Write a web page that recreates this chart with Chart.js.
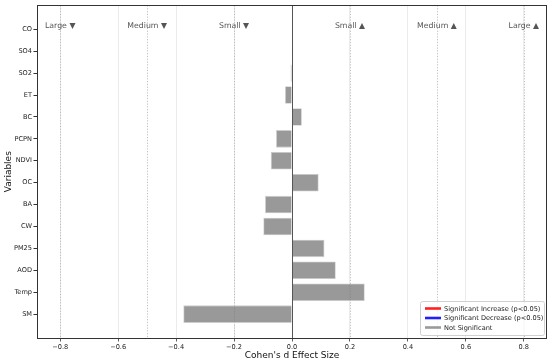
<!DOCTYPE html>
<html lang="en">
<head>
    <meta charset="UTF-8">
    <title>Cohen's d Effect Size</title>
    <script src="https://cdn.jsdelivr.net/npm/chart.js"></script>
    <style>
        html, body { margin: 0; padding: 0; background: #fff; }
        #wrap { width: 550px; height: 364px; }
    </style>
</head>
<body>
    <div id="wrap"><canvas id="effectChart"></canvas></div>

    <script>
        // variables, top to bottom
        const variables = ['CO', 'SO4', 'SO2', 'ET', 'BC', 'PCPN', 'NDVI', 'OC', 'BA', 'CW', 'PM25', 'AOD', 'Temp', 'SM'];
        const effectSizes = [0.001, 0.004, -0.005, -0.024, 0.034, -0.055, -0.073, 0.092, -0.093, -0.099, 0.112, 0.151, 0.251, -0.375];
        const significance = ['ns', 'ns', 'ns', 'ns', 'ns', 'ns', 'ns', 'ns', 'ns', 'ns', 'ns', 'ns', 'ns', 'ns'];

        const xTickValues = [-0.8, -0.6, -0.4, -0.2, 0, 0.2, 0.4, 0.6, 0.8];
        const thresholdValues = [-0.8, -0.5, -0.2, 0.2, 0.5, 0.8];
        const thresholdLabels = ['Large ▼', 'Medium ▼', 'Small ▼', 'Small ▲', 'Medium ▲', 'Large ▲'];

        const legendLabels = ['Significant Increase (p<0.05)', 'Significant Decrease (p<0.05)', 'Not Significant'];
        const legendKeys = ['up', 'down', 'ns'];

        const sigColors = { up: 'rgba(255, 0, 0, 0.8)', down: 'rgba(0, 0, 255, 0.8)', ns: 'rgba(128, 128, 128, 0.8)' };
        const legendLineColors = { up: '#ff2020', down: '#2020ff', ns: '#9a9a9a' };
        const FONT = "'DejaVu Sans', sans-serif";

        const barData = effectSizes.map((v, i) => ({ x: v, y: i }));

        // dotted threshold lines + zero line + frame + labels + legend
        const decorPlugin = {
            id: 'decor',
            beforeDatasetsDraw(chart) {
                const { ctx, chartArea, scales } = chart;
                ctx.save();
                ctx.strokeStyle = '#b0b0b0';
                ctx.lineWidth = 0.8;
                ctx.setLineDash([1.2, 1.6]);
                thresholdValues.forEach(v => {
                    const x = Math.round(scales.x.getPixelForValue(v)) + 0.5;
                    ctx.beginPath();
                    ctx.moveTo(x, chartArea.top);
                    ctx.lineTo(x, chartArea.bottom);
                    ctx.stroke();
                });
                ctx.restore();
            },
            afterDatasetsDraw(chart) {
                const { ctx, chartArea, scales } = chart;
                ctx.save();
                // zero line
                const x0 = Math.round(scales.x.getPixelForValue(0)) + 0.5;
                ctx.strokeStyle = '#555';
                ctx.lineWidth = 1;
                ctx.beginPath();
                ctx.moveTo(x0, chartArea.top);
                ctx.lineTo(x0, chartArea.bottom);
                ctx.stroke();

                // frame
                ctx.strokeStyle = '#333';
                ctx.strokeRect(Math.round(chartArea.left) + 0.5, Math.round(chartArea.top) + 0.5,
                    Math.round(chartArea.right - chartArea.left) - 1, Math.round(chartArea.bottom - chartArea.top));

                // effect size labels
                ctx.fillStyle = '#555';
                ctx.font = '7.8px ' + FONT;
                ctx.textAlign = 'center';
                ctx.textBaseline = 'middle';
                thresholdValues.forEach((v, i) => {
                    ctx.fillText(thresholdLabels[i], scales.x.getPixelForValue(v), chartArea.top + 21);
                });

                // legend, lower right
                const boxW = 124, boxH = 34;
                const bx = chartArea.right - boxW - 3, by = chartArea.bottom - boxH - 3;
                ctx.fillStyle = 'rgba(255,255,255,0.8)';
                ctx.strokeStyle = '#d0d0d0';
                ctx.lineWidth = 1;
                ctx.beginPath();
                ctx.roundRect(bx + 0.5, by + 0.5, boxW, boxH, 2);
                ctx.fill();
                ctx.stroke();
                ctx.font = '6.6px ' + FONT;
                ctx.textAlign = 'left';
                legendLabels.forEach((lab, i) => {
                    const y = by + 7.5 + i * 9.5;
                    ctx.strokeStyle = legendLineColors[legendKeys[i]];
                    ctx.lineWidth = 2.6;
                    ctx.beginPath();
                    ctx.moveTo(bx + 5, y);
                    ctx.lineTo(bx + 21, y);
                    ctx.stroke();
                    ctx.fillStyle = '#222';
                    ctx.fillText(lab, bx + 24, y + 0.5);
                });
                ctx.restore();
            }
        };

        const ctx = document.getElementById('effectChart').getContext('2d');
        new Chart(ctx, {
            type: 'bar',
            data: {
                datasets: [{
                    label: "Cohen's d",
                    data: barData,
                    backgroundColor: significance.map(s => sigColors[s]),
                    borderColor: 'rgba(200, 200, 200, 0.9)',
                    borderWidth: 0.8,
                    categoryPercentage: 1.0,
                    barPercentage: 0.8
                }]
            },
            options: {
                indexAxis: 'y',
                responsive: true,
                maintainAspectRatio: false,
                animation: false,
                layout: { padding: { top: 4, right: 3, bottom: 0, left: 0 } },
                plugins: {
                    legend: { display: false },
                    tooltip: { enabled: false }
                },
                scales: {
                    x: {
                        type: 'linear',
                        min: -0.88,
                        max: 0.88,
                        afterBuildTicks: scale => { scale.ticks = xTickValues.map(v => ({ value: v })); },
                        afterFit: scale => { scale.height = 26; },
                        border: { display: false },
                        grid: {
                            color: '#e6e6e6',
                            lineWidth: 0.8,
                            drawTicks: true,
                            tickLength: 3.5,
                            tickColor: '#333'
                        },
                        ticks: {
                            color: '#222',
                            font: { family: FONT, size: 6.6 },
                            padding: 1.5,
                            maxRotation: 0,
                            callback: v => v.toFixed(1).replace('-', '\u2212')
                        },
                        title: {
                            display: true,
                            text: "Cohen's d Effect Size",
                            color: '#111',
                            font: { family: FONT, size: 9 },
                            padding: { top: 0, bottom: 3 }
                        }
                    },
                    y: {
                        type: 'linear',
                        reverse: true,
                        offset: false,
                        min: -1.09,
                        max: 14.09,
                        afterBuildTicks: scale => { scale.ticks = variables.map((v, i) => ({ value: i })); },
                        afterFit: scale => { scale.width = 37; },
                        border: { display: false },
                        grid: {
                            offset: false,
                            drawOnChartArea: false,
                            drawTicks: true,
                            tickLength: 3.5,
                            tickColor: '#333'
                        },
                        ticks: {
                            color: '#222',
                            font: { family: FONT, size: 6.6 },
                            padding: 1.5,
                            autoSkip: false,
                            callback: v => variables[v]
                        },
                        title: {
                            display: true,
                            text: 'Variables',
                            color: '#111',
                            font: { family: FONT, size: 9 },
                            padding: { top: 3, bottom: 0 }
                        }
                    }
                }
            },
            plugins: [decorPlugin]
        });
    </script>
</body>
</html>
